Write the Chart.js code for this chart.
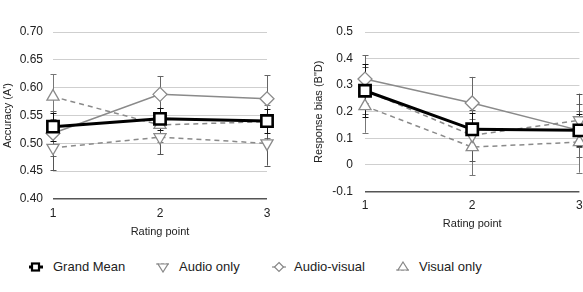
<!DOCTYPE html>
<html><head><meta charset="utf-8">
<script src="https://cdn.jsdelivr.net/npm/chart.js@4"></script>
<style>
html,body{margin:0;padding:0;background:#fff;width:583px;height:292px;overflow:hidden;position:relative;font-family:"Liberation Sans",Arial,sans-serif;}
#c1{position:absolute;left:0;top:0;}
#c2{position:absolute;left:290px;top:0;}
#legend{position:absolute;left:0;top:257px;width:583px;height:20px;font-size:13px;color:#222;}
.li{position:absolute;top:0;height:20px;line-height:20px;white-space:nowrap;}
.li svg{position:absolute;top:4px;}
.li span{position:absolute;top:0;}
</style></head>
<body>
<canvas id="c1" width="290" height="245"></canvas>
<canvas id="c2" width="300" height="237"></canvas>
<div id="legend">
 <div class="li" style="left:28px"><svg width="16" height="12" viewBox="0 0 16 12"><line x1="1" y1="6" x2="15" y2="6" stroke="#000" stroke-width="3"/><rect x="4" y="2.5" width="7" height="7" fill="#fff" stroke="#000" stroke-width="2.2"/></svg><span style="left:25px">Grand Mean</span></div>
 <div class="li" style="left:155px"><svg width="16" height="12" viewBox="0 0 16 12"><line x1="1" y1="3" x2="15" y2="3" stroke="#888" stroke-width="1.2" stroke-dasharray="3,2"/><polygon points="3,3 13,3 8,11" fill="#fff" stroke="#888" stroke-width="1.2"/></svg><span style="left:24px">Audio only</span></div>
 <div class="li" style="left:271px"><svg width="16" height="12" viewBox="0 0 16 12"><line x1="1" y1="6" x2="15" y2="6" stroke="#888" stroke-width="1.2"/><polygon points="8,1.5 12.5,6 8,10.5 3.5,6" fill="#fff" stroke="#888" stroke-width="1.2"/></svg><span style="left:23px">Audio-visual</span></div>
 <div class="li" style="left:395px"><svg width="16" height="12" viewBox="0 0 16 12"><line x1="1" y1="9" x2="15" y2="9" stroke="#888" stroke-width="1.2" stroke-dasharray="3,2"/><polygon points="8,1 13,9 3,9" fill="#fff" stroke="#888" stroke-width="1.2"/></svg><span style="left:24px">Visual only</span></div>
</div>
<script>
// ---- data ----
const categories = ['1', '2', '3'];
const seriesNames = ['Grand Mean', 'Audio only', 'Audio-visual', 'Visual only'];

// Accuracy (A')
const accGrandMean   = [0.530, 0.544, 0.540];
const accAudioOnly   = [0.492, 0.511, 0.500];
const accAudioVisual = [0.518, 0.588, 0.580];
const accVisualOnly  = [0.584, 0.533, 0.539];
const accErrGrandMean   = [0.025, 0.020, 0.022];
const accErrAudioOnly   = [0.040, 0.031, 0.040];
const accErrAudioVisual = [0.040, 0.033, 0.042];
const accErrVisualOnly  = [0.040, 0.030, 0.030];
const accTicks = [0.40, 0.45, 0.50, 0.55, 0.60, 0.65, 0.70];

// Response bias (B"D)
const biasGrandMean   = [0.279, 0.134, 0.130];
const biasAudioOnly   = [0.280, 0.111, 0.168];
const biasAudioVisual = [0.323, 0.233, 0.130];
const biasVisualOnly  = [0.221, 0.067, 0.086];
const biasErrGrandMean   = [0.100, 0.060, 0.060];
const biasErrAudioOnly   = [0.090, 0.097, 0.100];
const biasErrAudioVisual = [0.090, 0.098, 0.100];
const biasErrVisualOnly  = [0.100, 0.105, 0.115];
const biasTicks = [-0.1, 0, 0.1, 0.2, 0.3, 0.4, 0.5];

const FONT = "'Liberation Sans', Arial, sans-serif";
const GRAY = '#8a8a8a';

const errorBarPlugin = {
  id: 'errorBars',
  beforeDatasetsDraw(chart) {
    const ctx = chart.ctx;
    const ys = chart.scales.y;
    chart.data.datasets.slice().reverse().forEach((ds) => {
      const idx = chart.data.datasets.indexOf(ds);
      const meta = chart.getDatasetMeta(idx);
      if (!ds.errors) return;
      ctx.save();
      ctx.strokeStyle = ds.errColor;
      ctx.lineWidth = 1;
      ds.data.forEach((v, i) => {
        const pt = meta.data[i];
        const e = ds.errors[i];
        const x = Math.round(pt.x) + 0.5;
        const y1 = ys.getPixelForValue(v + e);
        const y2 = ys.getPixelForValue(v - e);
        ctx.beginPath();
        ctx.moveTo(x, y1); ctx.lineTo(x, y2);
        ctx.moveTo(x - 3, Math.round(y1) + 0.5); ctx.lineTo(x + 3, Math.round(y1) + 0.5);
        ctx.moveTo(x - 3, Math.round(y2) + 0.5); ctx.lineTo(x + 3, Math.round(y2) + 0.5);
        ctx.stroke();
      });
      ctx.restore();
    });
  }
};

function makeDatasets(gm, ao, av, vo, egm, eao, eav, evo) {
  return [
    {label: seriesNames[0], data: gm, errors: egm, errColor: '#111', borderColor: '#000', borderWidth: 3,
     pointStyle: 'rect', pointRadius: 8, pointBorderWidth: 2.6, pointBackgroundColor: '#fff', pointBorderColor: '#000'},
    {label: seriesNames[1], data: ao, errors: eao, errColor: '#555', borderColor: GRAY, borderWidth: 1.5, borderDash: [5, 4],
     pointStyle: 'triangle', rotation: 180, pointRadius: 7, pointBorderWidth: 1.3, pointBackgroundColor: '#fff', pointBorderColor: GRAY},
    {label: seriesNames[2], data: av, errors: eav, errColor: '#666', borderColor: GRAY, borderWidth: 1.5,
     pointStyle: 'rectRot', pointRadius: 7, pointBorderWidth: 1.3, pointBackgroundColor: '#fff', pointBorderColor: GRAY},
    {label: seriesNames[3], data: vo, errors: evo, errColor: '#777', borderColor: GRAY, borderWidth: 1.5, borderDash: [5, 4],
     pointStyle: 'triangle', pointRadius: 7, pointBorderWidth: 1.3, pointBackgroundColor: '#fff', pointBorderColor: GRAY}
  ];
}

function makeChart(id, datasets, ticks, fmt, yTitle, yWidth, titlePad, tickPad, padRight, xHeight) {
  return new Chart(document.getElementById(id), {
    type: 'line',
    data: {labels: categories, datasets},
    plugins: [errorBarPlugin],
    options: {
      responsive: false, animation: false, devicePixelRatio: 1,
      layout: {padding: {top: 32, right: padRight, left: 0, bottom: 0}},
      plugins: {legend: {display: false}, tooltip: {enabled: false}},
      elements: {line: {tension: 0}},
      scales: {
        x: {
          offset: false,
          grid: {display: false, drawTicks: false},
          border: {display: false},
          ticks: {padding: 7, color: '#222', font: {family: FONT, size: 12}, maxRotation: 0, autoSkip: false},
          title: {display: true, text: 'Rating point', color: '#222', font: {family: FONT, size: 11}, padding: {top: 0, bottom: 6}},
          afterFit(s) { s.height = xHeight; }
        },
        y: {
          min: ticks[0], max: ticks[ticks.length - 1],
          afterBuildTicks(s) { s.ticks = ticks.map(v => ({value: v})); },
          grid: {color: (c) => c.tick && c.tick.value === ticks[0] ? '#555' : '#cfcfcf', lineWidth: (c) => c.tick && c.tick.value === ticks[0] ? 1.6 : 1, drawTicks: false},
          border: {display: false},
          ticks: {padding: tickPad, color: '#222', font: {family: FONT, size: 12}, callback: fmt},
          title: {display: true, text: yTitle, color: '#222', font: {family: FONT, size: 11}, padding: {top: titlePad, bottom: 0}},
          afterFit(s) { s.width = yWidth; }
        }
      }
    }
  });
}

makeChart('c1',
  makeDatasets(accGrandMean, accAudioOnly, accAudioVisual, accVisualOnly, accErrGrandMean, accErrAudioOnly, accErrAudioVisual, accErrVisualOnly),
  accTicks, (v) => Number(v).toFixed(2), "Accuracy (A')", 53, 1, 10, 23, 46);

makeChart('c2',
  makeDatasets(biasGrandMean, biasAudioOnly, biasAudioVisual, biasVisualOnly, biasErrGrandMean, biasErrAudioOnly, biasErrAudioVisual, biasErrVisualOnly),
  biasTicks, (v) => Math.abs(v) < 1e-9 ? '0' : Number(v).toFixed(1), 'Response bias (B"D)', 75, 22, 12, 10, 45.5);
</script>
</body></html>
